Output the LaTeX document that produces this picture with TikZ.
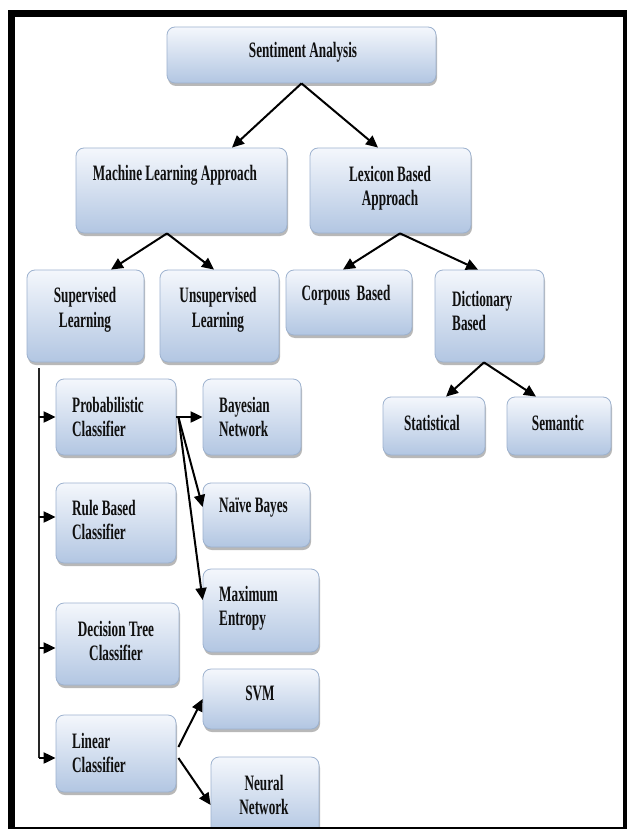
\documentclass[tikz,border=0pt]{standalone}
\usepackage{fontspec}
\setmainfont{Liberation Serif}
\newfontfamily\condfont[FakeStretch=0.6]{Liberation Serif}
\usetikzlibrary{arrows.meta,shadows,calc}
\definecolor{boxtop}{HTML}{F4F7FC}
\definecolor{boxbot}{HTML}{B2C6E2}
\definecolor{boxline}{HTML}{9DB2CF}
\definecolor{txt}{HTML}{101010}
\begin{document}
\begin{tikzpicture}[x=1pt,y=-1pt,
  box/.style={draw=boxline, line width=0.8pt, rounded corners=8pt,
    top color=boxtop, bottom color=boxbot, inner sep=0pt,
    drop shadow={shadow xshift=1pt, shadow yshift=-3pt, fill=black!55, opacity=0.5}},
  lbl/.style={font=\condfont\bfseries\fontsize{22}{24.5}\selectfont, text=txt, inner sep=0pt},
  arr/.style={draw=black, line width=2pt, -{Triangle[length=12pt,width=11pt]}},
  vline/.style={draw=black!85, line width=1.3pt}]
\useasboundingbox (0,0) rectangle (627,829);
\fill[white] (0,0) rectangle (627,829);

% boxes
\node[box, minimum width=269pt, minimum height=56pt] (sa) at (301.5,55) {};
\node[box, minimum width=211pt, minimum height=85pt] (ml) at (181.5,190.5) {};
\node[box, minimum width=161pt, minimum height=85pt] (lba) at (390.5,190.5) {};
\node[box, minimum width=117pt, minimum height=92pt] (sup) at (85.5,316) {};
\node[box, minimum width=119pt, minimum height=92pt] (uns) at (219.5,316) {};
\node[box, minimum width=126pt, minimum height=65pt] (cor) at (349,302.5) {};
\node[box, minimum width=109pt, minimum height=92pt] (dic) at (489.5,316) {};
\node[box, minimum width=102pt, minimum height=58pt] (sta) at (434,426) {};
\node[box, minimum width=104pt, minimum height=58pt] (sem) at (559,426) {};
\node[box, minimum width=120pt, minimum height=76pt] (prob) at (116,417) {};
\node[box, minimum width=98pt, minimum height=76pt] (bay) at (252,417) {};
\node[box, minimum width=120pt, minimum height=80pt] (rule) at (116,523) {};
\node[box, minimum width=107pt, minimum height=64pt] (nb) at (256.5,515) {};
\node[box, minimum width=116pt, minimum height=83pt] (me) at (261,610.5) {};
\node[box, minimum width=123pt, minimum height=82pt] (dt) at (117.5,644) {};
\node[box, minimum width=116pt, minimum height=60pt] (svm) at (261,699) {};
\node[box, minimum width=120pt, minimum height=77pt] (lin) at (116,753.5) {};
\node[box, minimum width=108pt, minimum height=78pt] (nn) at (265,796) {};

% labels
\node[lbl] (sa-t) at (303,52) {Sentiment Analysis};
\node[lbl] (ml-t) at (175,175) {Machine Learning Approach};
\node[lbl, align=center] (lba-t) at (390,188) {Lexicon Based\\Approach};
\node[lbl, align=center] (sup-t) at (85,310) {Supervised\\Learning};
\node[lbl, align=center] (uns-t) at (218,310) {Unsupervised\\Learning};
\node[lbl] (cor-t) at (346,295) {Corpous~ Based};
\node[lbl, align=left, anchor=west] (dic-t) at (452,311) {Dictionary\\Based};
\node[lbl] (sta-t) at (432,423) {Statistical};
\node[lbl] (sem-t) at (558,423) {Semantic};
\node[lbl, align=left, anchor=west] (prob-t) at (72,417) {Probabilistic\\Classifier};
\node[lbl, align=left, anchor=west] (bay-t) at (219,417) {Bayesian\\Network};
\node[lbl, align=left, anchor=west] (rule-t) at (72,520) {Rule Based\\Classifier};
\node[lbl, anchor=west] (nb-t) at (219,508) {Naïve Bayes};
\node[lbl, align=left, anchor=west] (me-t) at (219,608) {Maximum\\Entropy};
\node[lbl, align=center] (dt-t) at (116,641) {Decision Tree\\Classifier};
\node[lbl] (svm-t) at (260,693) {SVM};
\node[lbl, align=left, anchor=west] (lin-t) at (72,753) {Linear\\Classifier};
\node[lbl, align=center] (nn-t) at (264,795) {Neural\\Network};

% connectors
\draw[arr] (sa.south) -- ([xshift=50.5pt]ml.north);
\draw[arr] (sa.south) -- ([xshift=-12.5pt]lba.north);
\draw[arr] ([xshift=-14.5pt]ml.south) -- ([xshift=25.5pt]sup.north);
\draw[arr] ([xshift=-14.5pt]ml.south) -- ([xshift=-5.5pt]uns.north);
\draw[arr] ([xshift=9.5pt]lba.south) -- ([xshift=-6pt]cor.north);
\draw[arr] ([xshift=9.5pt]lba.south) -- ([xshift=-11.5pt]dic.north);
\draw[arr] ([xshift=-5.5pt]dic.south) -- ([xshift=12pt]sta.north);
\draw[arr] ([xshift=-5.5pt]dic.south) -- ([xshift=-23pt]sem.north);

\coordinate (vtop) at (39,368);
\coordinate (vbot) at (39,758);
\coordinate (rulein) at ([yshift=6pt]rule.west);
\coordinate (dtin) at ([yshift=-4pt]dt.west);
\draw[vline] (vtop) -- (vbot);
\draw[arr] (vtop |- prob.west) -- (prob.west);
\draw[arr] (vtop |- rulein) -- (rulein);
\draw[arr] (vtop |- dtin) -- (dtin);
\draw[arr] (vbot) -- (vbot -| lin.west);

\draw[arr] (prob.east) -- (bay.west);
\draw[arr] ([xshift=2pt]prob.east) -- ([yshift=8pt]nb.west);
\draw[arr] ([xshift=2pt]prob.east) -- ([yshift=10.5pt]me.west);
\draw[arr] ([shift={(2pt,6.5pt)}]lin.east) -- (svm.west);
\draw[arr] ([shift={(2pt,-4.5pt)}]lin.east) -- ([yshift=-9pt]nn.west);

% frame
\fill[black] (8,10) rectangle (627,17);
\fill[black] (8,10) rectangle (15,829);
\fill[black] (623,10) rectangle (627,829);
\fill[black] (8,827) rectangle (627,829);
\end{tikzpicture}
\end{document}
